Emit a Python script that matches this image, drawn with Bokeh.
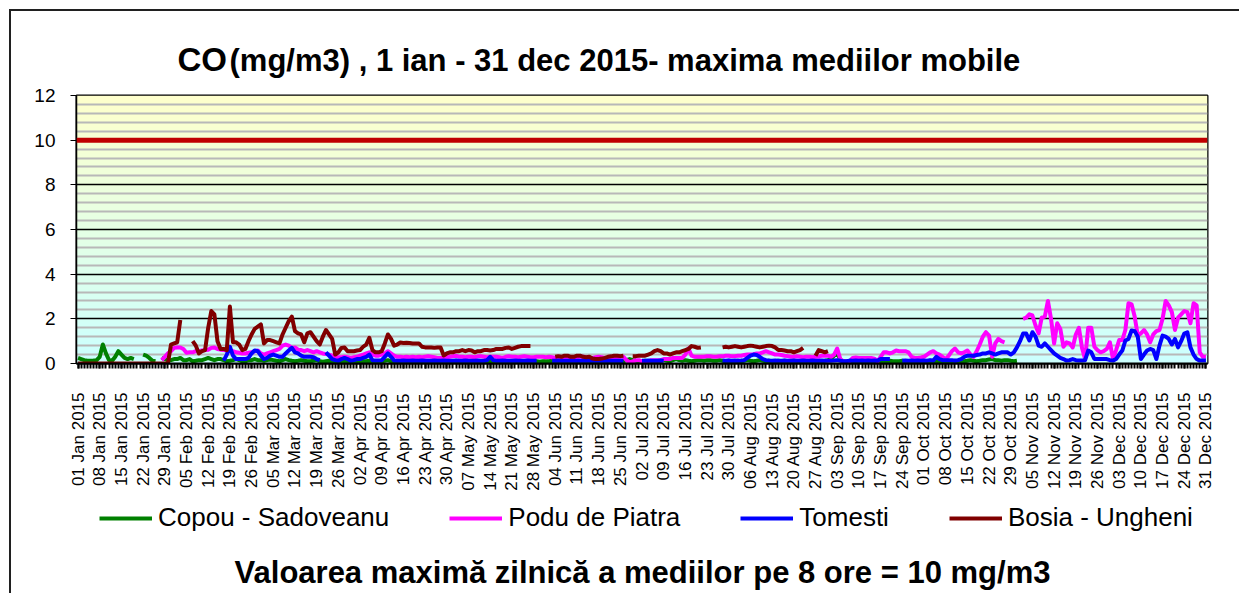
import math
import numpy as np
from bokeh.plotting import figure
from bokeh.layouts import column
from bokeh.models import (ColumnDataSource, FixedTicker, Legend, LegendItem, Span, Range1d)
from bokeh.core.properties import value
from bokeh.embed import file_html
from bokeh.resources import INLINE

# ---------------- data ----------------
DAYS = list(range(365))
LABEL_DAYS = list(range(0, 365, 7))
TICK_LABELS = [
    "01 Jan 2015", "08 Jan 2015", "15 Jan 2015", "22 Jan 2015", "29 Jan 2015",
    "05 Feb 2015", "12 Feb 2015", "19 Feb 2015", "26 Feb 2015",
    "05 Mar 2015", "12 Mar 2015", "19 Mar 2015", "26 Mar 2015",
    "02 Apr 2015", "09 Apr 2015", "16 Apr 2015", "23 Apr 2015", "30 Apr 2015",
    "07 May 2015", "14 May 2015", "21 May 2015", "28 May 2015",
    "04 Jun 2015", "11 Jun 2015", "18 Jun 2015", "25 Jun 2015",
    "02 Jul 2015", "09 Jul 2015", "16 Jul 2015", "23 Jul 2015", "30 Jul 2015",
    "06 Aug 2015", "13 Aug 2015", "20 Aug 2015", "27 Aug 2015",
    "03 Sep 2015", "10 Sep 2015", "17 Sep 2015", "24 Sep 2015",
    "01 Oct 2015", "08 Oct 2015", "15 Oct 2015", "22 Oct 2015", "29 Oct 2015",
    "05 Nov 2015", "12 Nov 2015", "19 Nov 2015", "26 Nov 2015",
    "03 Dec 2015", "10 Dec 2015", "17 Dec 2015", "24 Dec 2015", "31 Dec 2015",
]
Y_TICKS = [0, 2, 4, 6, 8, 10, 12]
LIMIT = 10

TITLE_BIG = "CO"
TITLE_REST = "(mg/m3) , 1 ian - 31 dec 2015- maxima mediilor mobile"
FOOTER = "Valoarea maximă zilnică a mediilor pe 8 ore = 10 mg/m3"

N = None
# Copou - Sadoveanu (green)
COPOU_JAN = [0.25, 0.2, 0.15, 0.12, 0.12, 0.13, 0.15, 0.3, 0.85, 0.45, 0.15, 0.12, 0.3, 0.55, 0.4,
             0.25, 0.2, 0.25, 0.2, N, N, 0.4, 0.35, 0.25, 0.12, 0.1, N, 0.25, 0.2, 0.15, 0.15]
COPOU_FEB = [0.2, 0.2, 0.25, 0.15, 0.15, 0.2, 0.1, 0.12, 0.15, 0.15, 0.2, 0.25, 0.2, 0.15,
             0.2, 0.2, 0.15, 0.1, 0.12, 0.15, 0.2, 0.15, 0.1, 0.1, 0.15, 0.15, 0.2, 0.15]
COPOU_MAR = [0.15, 0.12, 0.15, 0.18, 0.15, 0.12, 0.1, 0.15, 0.2, 0.15, 0.12, 0.1, 0.12, 0.15, 0.12,
             0.1, 0.1, 0.12, 0.15, 0.1, 0.08, 0.1, 0.12, 0.1, 0.08, 0.1, 0.1, 0.12, 0.1, 0.08, 0.1]
COPOU_APR = [0.1, 0.12, 0.1, 0.1, 0.12, 0.1, 0.08, 0.1, 0.1, 0.12, 0.15, 0.1, 0.08, 0.1, 0.1,
             0.12, 0.1, 0.1, 0.08, 0.1, 0.1, 0.12, 0.1, 0.1, 0.08, 0.1, 0.12, 0.1, 0.1, 0.1]
COPOU_MAY = [0.1, 0.1, 0.12, 0.1, 0.08, 0.1, 0.1, 0.12, 0.1, 0.1, 0.08, 0.1, 0.12, 0.1, 0.1, 0.1,
             0.12, 0.1, 0.08, 0.1, 0.1, 0.1, 0.12, 0.1, 0.1, 0.1, 0.12, 0.1, 0.1, 0.08, 0.1]
COPOU_JUN = [0.1, 0.1, 0.12, 0.1, 0.1, 0.1, 0.08, 0.1, 0.1, 0.12, 0.1, 0.1, 0.1, 0.08, 0.1,
             0.1, 0.12, 0.1, 0.1, 0.1, 0.1, 0.08, 0.1, 0.1, 0.12, 0.1, 0.15, 0.2, 0.15, 0.12]
COPOU_JUL = [0.1, 0.1, 0.12, 0.1, 0.1, 0.1, 0.1, 0.12, 0.15, 0.12, 0.1, 0.15, 0.2, 0.15, 0.12, 0.15,
             0.12, 0.1, 0.12, 0.15, 0.15, 0.12, 0.15, 0.15, 0.12, 0.12, 0.15, 0.12, 0.1, 0.12, 0.1]
COPOU_AUG = [0.1, 0.12, 0.1, 0.12, 0.15, 0.12, 0.1, 0.12, 0.15, 0.12, 0.1, 0.12, 0.1, 0.1, 0.12, 0.1,
             0.12, 0.1, 0.1, 0.12, 0.1, 0.1, 0.12, 0.1, 0.1, 0.1, 0.12, 0.1, 0.1, 0.12, 0.15]
COPOU_SEP = [0.2, 0.35, 0.5, 0.15, 0.1, 0.08, 0.1, 0.1, 0.08, 0.1, 0.1, 0.1, 0.08, 0.1, 0.1,
             0.1, 0.12, 0.1, 0.1, 0.12, 0.1, 0.1, 0.1, 0.12, 0.1, 0.1, 0.1, 0.08, 0.1, 0.1]
COPOU_OCT = [0.1, 0.1, 0.12, 0.1, 0.1, 0.1, 0.1, 0.12, 0.1, 0.1, 0.12, 0.1, 0.1, 0.1, 0.12, 0.15,
             0.12, 0.1, 0.12, 0.15, 0.15, 0.18, 0.2, 0.15, 0.15, 0.12, 0.15, 0.15, 0.12, 0.1, 0.12]
COPOU_NOV = [N] * 30
COPOU_DEC = [N] * 31

# Podu de Piatra (magenta)
PODU_JAN = [N, N, N, N, N, N, N, N, N, N, N, N, N, N, N, N, N, N, N, N, N, N, N, N, N, N, N,
            0.15, 0.3, 0.45, 0.55]
PODU_FEB = [0.7, 0.72, 0.72, 0.65, 0.48, 0.5, 0.5, 0.55, 0.55, 0.58, 0.6, 0.62, 0.7, 0.72,
            0.65, 0.62, 0.6, 0.58, 0.55, 0.55, 0.5, 0.48, 0.45, 0.45, 0.48, 0.5, 0.55, 0.58]
PODU_MAR = [0.45, 0.4, 0.45, 0.5, 0.55, 0.6, 0.65, 0.8, 0.85, 0.8, 0.7, 0.72, 0.62, 0.6, 0.55, 0.6,
            0.55, 0.5, 0.55, 0.5, 0.45, 0.42, 0.4, 0.35, 0.3, 0.28, 0.28, 0.3, 0.28, 0.25, 0.28]
PODU_APR = [0.3, 0.35, 0.4, 0.45, 0.5, 0.4, 0.35, 0.35, 0.4, 0.45, 0.55, 0.45, 0.35, 0.3, 0.3,
            0.28, 0.3, 0.28, 0.3, 0.28, 0.3, 0.28, 0.3, 0.32, 0.3, 0.28, 0.25, 0.25, 0.25, 0.28]
PODU_MAY = [0.3, 0.32, 0.35, 0.3, 0.3, 0.28, 0.3, 0.3, 0.28, 0.32, 0.32, 0.3, 0.28, 0.3, 0.3, 0.3,
            0.28, 0.25, 0.3, 0.32, 0.3, 0.3, 0.28, 0.3, 0.32, 0.3, 0.28, 0.28, 0.3, 0.3, 0.3]
PODU_JUN = [0.28, 0.3, 0.28, 0.25, 0.25, 0.28, 0.3, 0.28, 0.25, 0.25, 0.28, 0.3, 0.3, 0.28, 0.25,
            0.25, 0.28, 0.3, 0.28, 0.25, 0.25, 0.28, 0.3, 0.28, 0.3, 0.3, 0.15, 0.05, 0.1, 0.15]
PODU_JUL = [0.15, 0.1, 0.1, 0.1, 0.15, 0.15, 0.15, 0.15, 0.2, 0.2, 0.2, 0.25, 0.25, 0.25, 0.25, 0.4,
            0.67, 0.35, 0.3, 0.3, 0.3, 0.3, 0.32, 0.32, 0.3, 0.3, 0.32, 0.32, 0.35, 0.35, 0.32]
PODU_AUG = [0.33, 0.35, 0.35, 0.38, 0.4, 0.4, 0.42, 0.45, 0.45, 0.5, 0.55, 0.5, 0.45, 0.4, 0.4, 0.38,
            0.35, 0.33, 0.3, 0.3, 0.32, 0.3, 0.28, 0.3, 0.3, 0.28, 0.3, 0.3, 0.35, 0.35, 0.35]
PODU_SEP = [0.3, 0.4, 0.67, 0.2, 0.1, 0.1, 0.1, 0.25, 0.27, 0.25, 0.25, 0.25, 0.25, 0.25, 0.22,
            0.1, 0.3, 0.5, 0.5, 0.45, 0.5, 0.58, 0.55, 0.55, 0.55, 0.5, 0.3, 0.25, 0.25, 0.27]
PODU_OCT = [0.3, 0.4, 0.5, 0.55, 0.45, 0.4, 0.3, 0.2, 0.35, 0.55, 0.67, 0.5, 0.45, 0.5, 0.58, 0.4,
            0.3, 0.55, 0.85, 1.2, 1.4, 1.25, 0.3, 0.9, 1.1, 1.0, 0.95, N, N, N, N]
PODU_NOV = [N, 2.0, 2.05, 2.2, 2.15, 1.7, 1.35, 2.05, 2.1, 2.8, 2.0, 0.9, 1.8, 1.55, 0.75,
            0.95, 0.9, 0.72, 1.3, 1.6, 0.7, 0.2, 1.6, 1.6, 0.75, 0.6, 0.5, 0.55, 0.65, 0.95]
PODU_DEC = [0.2, 0.6, 1.05, 1.05, 1.5, 2.7, 2.65, 2.1, 1.25, 1.35, 1.5, 1.3, 0.95, 1.3, 1.45, 1.5,
            2.0, 2.8, 2.6, 2.3, 1.5, 2.05, 2.2, 2.35, 2.3, 1.8, 2.7, 2.6, 0.5, 0.3, 0.3]

# Tomesti (blue)
TOMESTI_JAN = [N] * 31
TOMESTI_FEB = [N, N, N, N, N, N, N, N, N, N, N, N, N, N, N, N,
               0.13, 0.4, 0.75, 0.35, 0.2, 0.2, 0.2, 0.2, 0.25, 0.45, 0.58, 0.55]
TOMESTI_MAR = [0.35, 0.2, 0.25, 0.35, 0.4, 0.35, 0.3, 0.3, 0.45, 0.58, 0.7, 0.5, 0.45, 0.35, 0.3,
               0.3, 0.3, 0.28, 0.2, 0.15, N, 0.5, 0.35, 0.2, 0.15, 0.12, 0.2, 0.25, 0.2, 0.12, 0.15]
TOMESTI_APR = [0.2, 0.2, 0.25, 0.3, 0.4, 0.15, 0.13, 0.13, 0.15, 0.3, 0.45, 0.3, 0.13, 0.12, 0.12,
               0.13, 0.12, 0.12, 0.13, 0.12, 0.12, 0.13, 0.12, 0.12, 0.12, 0.13, 0.12, 0.12, 0.13, 0.12]
TOMESTI_MAY = [0.12, 0.12, 0.13, 0.12, 0.12, 0.13, 0.12, 0.12, 0.12, 0.13, 0.12, 0.12, 0.15, 0.3,
               0.15, 0.12, 0.12, 0.13, 0.12, 0.12, 0.12, 0.13, 0.12, 0.12, 0.12, 0.13, 0.12, 0.12,
               0.12, N, N]
TOMESTI_JUN = [N, N, 0.12, 0.12, 0.13, 0.12, 0.12, 0.12, 0.13, 0.12, 0.12, 0.12, 0.13, 0.12, 0.12,
               0.12, 0.13, 0.12, 0.12, 0.12, 0.13, 0.12, 0.12, 0.12, 0.12, 0.12, N, N, N, N]
TOMESTI_JUL = [N, 0.12, 0.12, 0.13, 0.12, 0.12, 0.12, 0.13, 0.12, N, N, N, N, N, N, N, N, N, N,
               N, N, N, N, N, N, N, N, 0.13, 0.12, 0.13, 0.12]
TOMESTI_AUG = [0.13, 0.12, 0.13, 0.15, 0.25, 0.35, 0.4, 0.38, 0.3, 0.2, 0.15, 0.13, 0.12, 0.13,
               0.12, 0.12, 0.13, 0.12, 0.12, 0.13, 0.12, 0.12, 0.13, 0.12, 0.12, 0.13, 0.12, 0.12,
               0.13, 0.12, 0.12]
TOMESTI_SEP = [0.12, 0.13, 0.15, 0.12, 0.1, 0.1, 0.13, 0.12, 0.13, 0.12, 0.13, 0.12, 0.13, 0.12,
               0.13, 0.12, 0.2, 0.2, 0.2, 0.2, N, N, N, 0.12, 0.13, 0.12, 0.13, 0.12, 0.13, 0.12]
TOMESTI_OCT = [0.13, 0.12, 0.15, 0.13, 0.3, 0.2, 0.15, 0.15, 0.15, 0.15, 0.12, 0.15, 0.2, 0.3, 0.35,
               0.35, 0.35, 0.38, 0.4, 0.45, 0.45, 0.5, 0.45, 0.4, 0.45, 0.5, 0.5, 0.5, 0.4, 0.5, 0.72]
TOMESTI_NOV = [1.0, 1.34, 1.34, 1.03, 1.4, 1.2, 0.8, 0.75, 0.9, 0.75, 0.6, 0.45, 0.35, 0.25, 0.2,
               0.13, 0.15, 0.2, 0.15, 0.13, 0.13, 0.15, 0.58, 0.5, 0.2, 0.2, 0.2, 0.2, 0.2, 0.15]
TOMESTI_DEC = [0.13, 0.2, 0.4, 0.58, 1.03, 1.1, 1.48, 1.45, 1.2, 0.2, 0.4, 0.58, 0.65, 0.6, 0.2,
               0.8, 1.25, 1.2, 1.1, 0.85, 1.1, 0.72, 1.0, 1.34, 1.4, 0.72, 0.4, 0.2, 0.13, 0.13, 0.13]

# Bosia - Ungheni (dark red)
BOSIA_JAN = [0.0, 0.0, 0.0, 0.0, 0.0, 0.0, 0.0, 0.0, 0.0, 0.0, 0.0, 0.0, 0.0, 0.0, 0.0, 0.0,
             0.0, 0.0, 0.0, 0.0, 0.0, 0.0, 0.0, 0.0, 0.0, 0.0, 0.0, 0.0, 0.0, 0.0, 0.85]
BOSIA_FEB = [0.9, 0.95, 1.95, N, N, N, 1.0, 0.8, 0.45, 0.55, 0.6, 1.6, 2.35, 2.2, 1.0, 0.65,
             0.65, 0.6, 2.55, 0.95, 0.95, 0.85, 0.6, 0.65, 1.0, 1.3, 1.55, 1.65]
BOSIA_MAR = [1.75, 0.9, 1.05, 1.05, 1.0, 0.95, 0.9, 1.3, 1.6, 1.9, 2.1, 1.45, 1.35, 1.3, 0.95,
             1.35, 1.4, 1.2, 1.0, 0.85, 1.2, 1.5, 1.3, 1.1, 0.4, 0.5, 0.7, 0.72, 0.55, 0.55, 0.55]
BOSIA_APR = [0.58, 0.6, 0.75, 0.85, 1.15, 0.6, 0.5, 0.5, 0.55, 0.9, 1.3, 1.1, 0.8, 0.85, 0.94,
             0.92, 0.93, 0.92, 0.9, 0.9, 0.9, 0.75, 0.72, 0.72, 0.72, 0.7, 0.72, 0.72, 0.36, 0.45]
BOSIA_MAY = [0.5, 0.5, 0.55, 0.55, 0.6, 0.55, 0.6, 0.58, 0.5, 0.55, 0.55, 0.6, 0.6, 0.58, 0.6, 0.65,
             0.65, 0.65, 0.7, 0.72, 0.65, 0.7, 0.75, 0.78, 0.78, 0.78, 0.78, N, N, N, N]
BOSIA_JUN = [N, N, N, 0.3, 0.33, 0.3, 0.35, 0.35, 0.3, 0.3, 0.35, 0.35, 0.3, 0.28, 0.3, 0.22, 0.2,
             0.2, 0.22, 0.25, 0.3, 0.32, 0.35, 0.35, 0.33, 0.35, N, N, 0.33, 0.33]
BOSIA_JUL = [0.35, 0.35, 0.35, 0.4, 0.45, 0.55, 0.6, 0.55, 0.45, 0.45, 0.4, 0.45, 0.5, 0.5, 0.55,
             0.6, 0.65, 0.78, 0.75, 0.7, 0.72, N, N, N, N, N, N, 0.72, 0.75, 0.72, 0.75]
BOSIA_AUG = [0.78, 0.75, 0.72, 0.75, 0.78, 0.8, 0.78, 0.75, 0.72, 0.75, 0.78, 0.8, 0.78, 0.72, 0.6,
             0.6, 0.58, 0.55, 0.55, 0.5, 0.55, 0.6, 0.7, N, N, N, 0.35, 0.6, 0.55, 0.5, 0.55]
BOSIA_SEP = [N] * 30
BOSIA_OCT = [N] * 31
BOSIA_NOV = [N] * 30
BOSIA_DEC = [N] * 31

COPOU = (COPOU_JAN + COPOU_FEB + COPOU_MAR + COPOU_APR + COPOU_MAY + COPOU_JUN + COPOU_JUL
         + COPOU_AUG + COPOU_SEP + COPOU_OCT + COPOU_NOV + COPOU_DEC)
PODU = (PODU_JAN + PODU_FEB + PODU_MAR + PODU_APR + PODU_MAY + PODU_JUN + PODU_JUL
        + PODU_AUG + PODU_SEP + PODU_OCT + PODU_NOV + PODU_DEC)
TOMESTI = (TOMESTI_JAN + TOMESTI_FEB + TOMESTI_MAR + TOMESTI_APR + TOMESTI_MAY + TOMESTI_JUN
           + TOMESTI_JUL + TOMESTI_AUG + TOMESTI_SEP + TOMESTI_OCT + TOMESTI_NOV + TOMESTI_DEC)
BOSIA = (BOSIA_JAN + BOSIA_FEB + BOSIA_MAR + BOSIA_APR + BOSIA_MAY + BOSIA_JUN + BOSIA_JUL
         + BOSIA_AUG + BOSIA_SEP + BOSIA_OCT + BOSIA_NOV + BOSIA_DEC)

SERIES = [
    ("Copou - Sadoveanu", COPOU, "#008000"),
    ("Podu de Piatra", PODU, "#FF00FF"),
    ("Tomesti", TOMESTI, "#0000FF"),
    ("Bosia - Ungheni", BOSIA, "#800000"),
]

FONT = "Liberation Sans"
W = 1228
ML, MR = 65, 32  # shared left / right borders so the column's frames line up


def strip(height):
    # frame spans the strip; x data units = canvas pixels, y data units = pixels from bottom
    f = figure(width=W, height=height, output_backend="svg", toolbar_location=None,
               x_range=Range1d(ML, W - MR), y_range=Range1d(0, height),
               x_axis_location=None, y_axis_location=None,
               min_border_left=ML, min_border_right=MR, min_border_top=0, min_border_bottom=0)
    f.grid.visible = False
    f.outline_line_color = None
    f.background_fill_color = "white"
    f.border_fill_color = "white"
    return f


# ---------------- title strip ----------------
TH = 72
top = strip(TH)
top.text(x=[166], y=[24], text=[TITLE_BIG], text_font=value(FONT), text_font_size="33px",
         text_font_style="bold", text_color="black", text_baseline="middle")
top.text(x=[218], y=[23], text=[TITLE_REST], text_font=value(FONT), text_font_size="31px",
         text_font_style="bold", text_color="black", text_baseline="middle")

# ---------------- main chart ----------------
p = figure(width=W, height=415, output_backend="svg", toolbar_location=None,
           x_range=Range1d(-0.5, 364.5), y_range=Range1d(0, 12),
           min_border_left=ML, min_border_right=MR, min_border_top=12, min_border_bottom=135)
p.background_fill_color = "white"
p.border_fill_color = "white"
p.outline_line_color = "black"
p.outline_line_width = 2

# gradient plot-area background (yellow at top -> light cyan at bottom)
rows = 134
t = np.linspace(0.0, 1.0, rows)[:, None]  # 0 bottom, 1 top
r = (204 + (255 - 204) * t).astype(np.uint32)
g = np.full_like(r, 255)
b = (255 - (255 - 204) * t).astype(np.uint32)
a = np.full_like(r, 255)
img = (a << 24) | (b << 16) | (g << 8) | r
p.image_rgba(image=[img], x=-0.5, y=0, dw=365, dh=12, level="image")

# grid
p.xgrid.visible = False
minor = [round(i * 0.4, 1) for i in range(31) if i % 5]
p.yaxis.ticker = FixedTicker(ticks=Y_TICKS, minor_ticks=minor)
p.ygrid.ticker = p.yaxis.ticker
p.ygrid.grid_line_color = "black"
p.ygrid.grid_line_width = 1.3
p.ygrid.minor_grid_line_color = "#b8b8b8"
p.ygrid.minor_grid_line_width = 2

# y axis
ya = p.yaxis[0]
ya.axis_line_color = "black"
ya.axis_line_width = 1.5
ya.major_tick_line_color = "black"
ya.major_tick_in = 0
ya.major_tick_out = 6
ya.minor_tick_line_color = None
ya.major_label_text_font = FONT
ya.major_label_text_font_size = "19px"
ya.major_label_text_color = "black"
ya.major_label_standoff = 15

# x axis
xa = p.xaxis[0]
xa.ticker = FixedTicker(ticks=LABEL_DAYS, minor_ticks=DAYS)
xa.major_label_overrides = {d: lab for d, lab in zip(LABEL_DAYS, TICK_LABELS)}
xa.major_label_orientation = math.pi / 2
xa.major_label_text_font = FONT
xa.major_label_text_font_size = "17px"
xa.major_label_text_color = "black"
xa.major_label_standoff = 24
xa.axis_line_color = "black"
xa.axis_line_width = 2
xa.major_tick_in = 0
xa.major_tick_out = 5
xa.minor_tick_in = 0
xa.minor_tick_out = 5
xa.major_tick_line_width = 2
xa.minor_tick_line_width = 2
xa.major_tick_line_color = "black"
xa.minor_tick_line_color = "black"

# limit line
p.add_layout(Span(location=LIMIT, dimension="width", line_color="#C00000", line_width=5))

# series
for name, vals, color in SERIES:
    src = ColumnDataSource(dict(x=DAYS, y=np.array(vals, dtype=float)))
    p.line("x", "y", source=src, line_color=color, line_width=4, line_join="round")

# ---------------- legend + footer strip ----------------
BH = 95
bot = strip(BH)
items = []
for name, vals, color in SERIES:
    # legend swatch renderer: same style, placed outside the visible range
    lr = bot.line(x=[-500, -400], y=[-500, -500], line_color=color, line_width=4)
    items.append(LegendItem(label=name, renderers=[lr]))
legend = Legend(items=items, orientation="horizontal", location=(23, 60),
                glyph_width=53, glyph_height=26, label_standoff=6, spacing=60,
                padding=0, margin=0, border_line_color=None, background_fill_alpha=0,
                label_text_font=FONT, label_text_font_size="26px",
                label_text_color="black", label_height=26)
bot.add_layout(legend)
bot.text(x=[631], y=[21], text=[FOOTER], text_font=value(FONT), text_font_size="31px",
         text_font_style="bold", text_color="black", text_baseline="middle",
         text_align="center")

layout = column(top, p, bot, spacing=0)
layout.styles = {"margin-left": "9px", "margin-top": "9px",
                 "border-left": "2px solid #202020", "border-top": "2px solid #202020"}

open("out.html", "w").write(file_html(layout, INLINE))
